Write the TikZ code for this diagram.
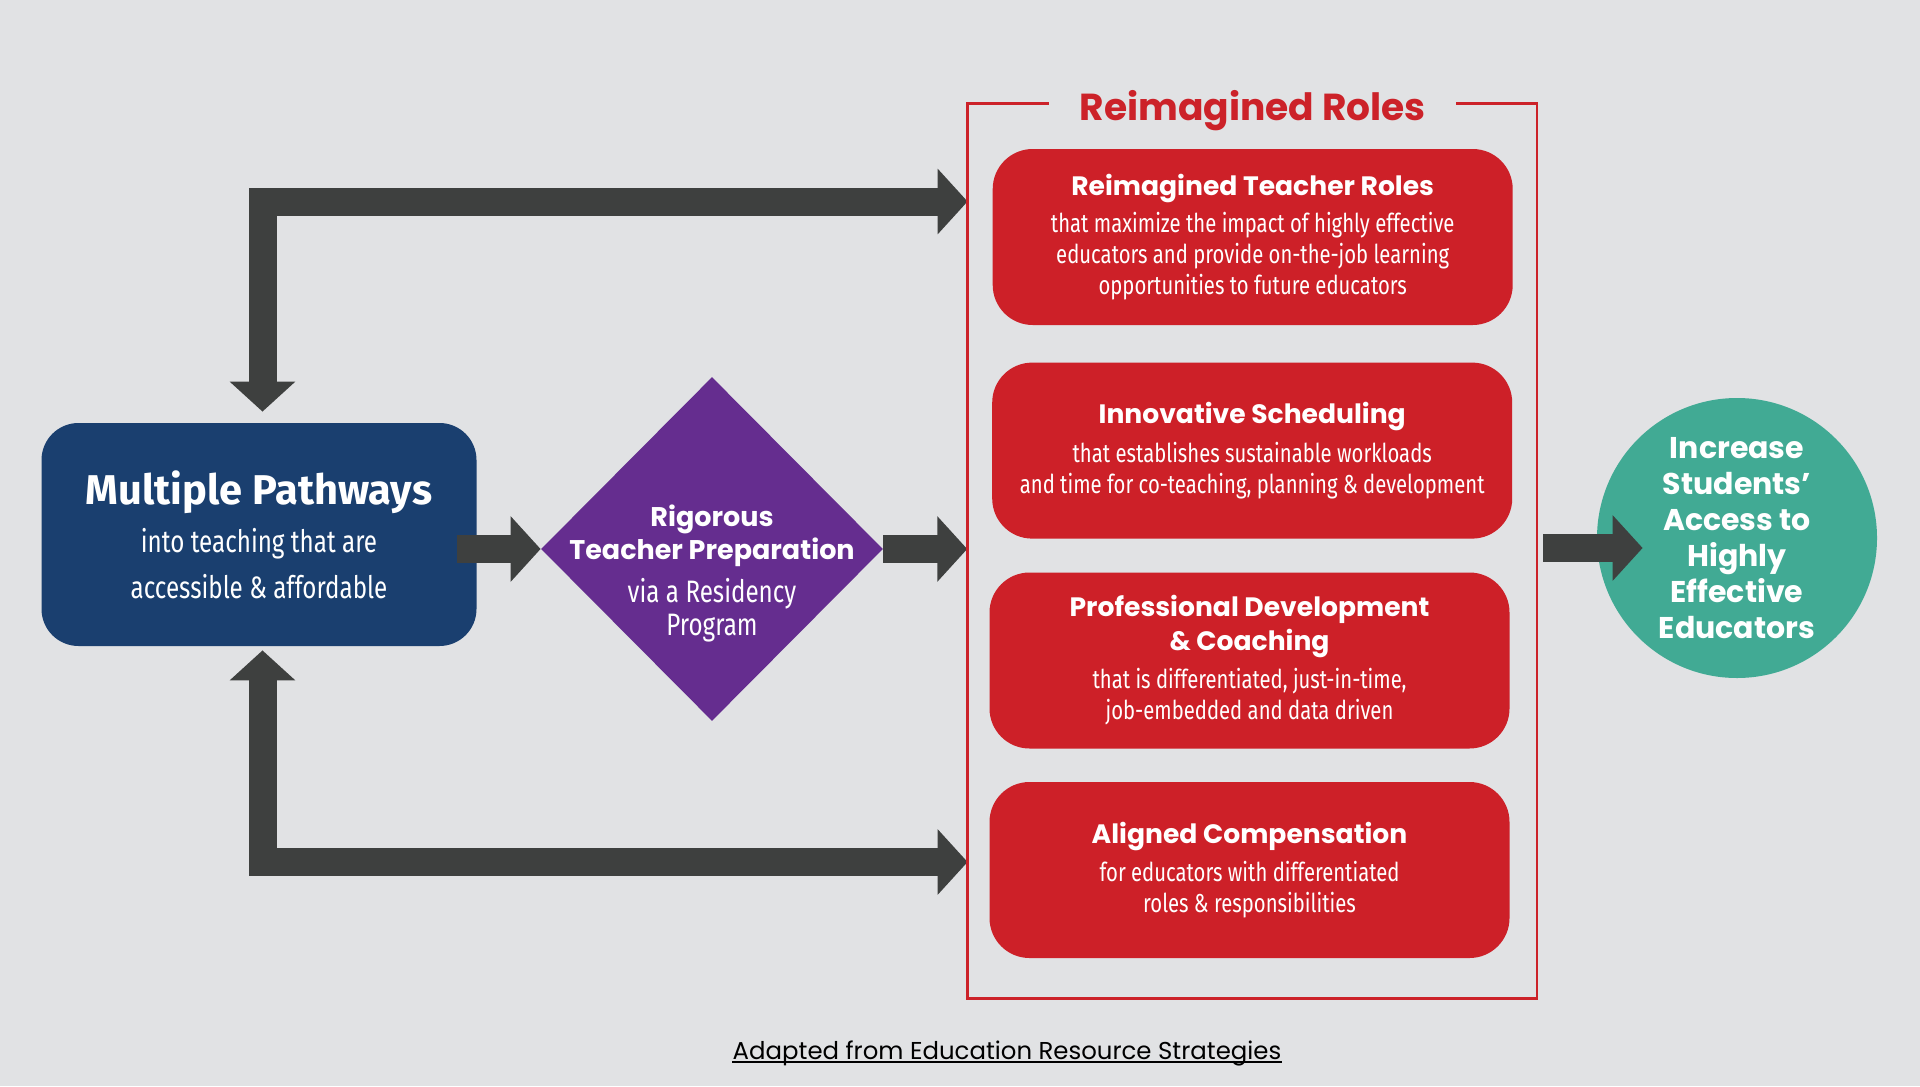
\documentclass[tikz,border=0pt]{standalone}
\usepackage{fontspec}
\setmainfont{Poppins}
\newfontfamily\cond[FakeStretch=0.78]{Fira Sans}
\newfontfamily\fira{Fira Sans}
\usetikzlibrary{shapes.geometric,arrows.meta,calc}
\definecolor{bgc}{HTML}{E1E2E4}
\definecolor{navyc}{HTML}{1A3F6F}
\definecolor{violetc}{HTML}{652D8F}
\definecolor{redc}{HTML}{CD2028}
\definecolor{framec}{HTML}{CC2229}
\definecolor{tealc}{HTML}{41AA94}
\definecolor{arrowc}{HTML}{3E403F}
\newcommand\hd{\rmfamily\bfseries\fontsize{13.3}{17}\selectfont}
\newcommand\dhd{\rmfamily\bfseries\fontsize{13.5}{16.5}\selectfont}
\tikzset{
  pathbox/.style={fill=navyc, rounded corners=18.5pt, minimum width=217.5pt, minimum height=111.5pt,
    text=white, align=center, inner sep=0pt, font=\cond\fontsize{15.5}{23}\selectfont},
  rolebox/.style={fill=redc, rounded corners=20pt, minimum width=260pt, minimum height=88pt,
    text=white, align=center, inner sep=0pt, font=\cond\fontsize{13}{15.5}\selectfont},
  prepshape/.style={diamond, fill=violetc, minimum width=171pt, minimum height=172pt, inner sep=0pt},
  preptext/.style={text=white, align=center, inner sep=0pt, font=\cond\fontsize{15.5}{16.5}\selectfont},
  goalshape/.style={circle, fill=tealc, minimum size=140pt, inner sep=0pt, text=white, align=center,
    font=\bfseries\fontsize{15}{18}\selectfont},
  framebox/.style={draw=framec, line width=1.35pt},
  blockarrow/.style={draw=arrowc, line width=14pt, -{Triangle[length=15pt,width=32pt]}},
  twoway/.style={draw=arrowc, line width=14pt, {Triangle[length=15pt,width=32pt]}-{Triangle[length=15pt,width=32pt]}},
}
\begin{document}
\begin{tikzpicture}[x=0.5pt, y=-0.5pt]
\useasboundingbox (0,0) rectangle (1920,1086);
\fill[bgc] (0,0) rectangle (1920,1086);

% nodes
\node[pathbox] (pw) at (259,534.5)
  {{\fira\bfseries\fontsize{20.8}{22}\selectfont Multiple Pathways}\\[1pt]
   into teaching that are\\ accessible \& affordable};
\node[prepshape] (prep) at (712,549) {};
\node[preptext] (preplabel) at ([yshift=-12pt]prep.center)
  {{\dhd Rigorous}\\
   {\dhd Teacher Preparation}\\[5pt]
   via a Residency\\ Program};

\node[inner sep=0pt, minimum width=284.5pt, minimum height=447pt] (frame) at (1252.15,551.15) {};
\node[anchor=base, inner sep=0pt, text=framec, font=\bfseries\fontsize{18.8}{22}\selectfont] (title)
  at (1252.7,120) {Reimagined Roles};

\node[rolebox] (r1) at (1252.7,237)
  {{\hd Reimagined Teacher Roles}\\[3pt]
   that maximize the impact of highly effective\\
   educators and provide on-the-job learning\\
   opportunities to future educators};
\node[rolebox] (r2) at (1252.2,450.6)
  {{\hd Innovative Scheduling}\\[4pt]
   that establishes sustainable workloads\\
   and time for co-teaching, planning \& development};
\node[rolebox] (r3) at (1249.5,660.5)
  {{\hd Professional Development}\\[1.5pt]
   {\hd \& Coaching}\\[3.5pt]
   that is differentiated, just-in-time,\\
   job-embedded and data driven};
\node[rolebox] (r4) at (1249.5,870)
  {{\hd Aligned Compensation}\\[3.5pt]
   for educators with differentiated\\
   roles \& responsibilities};

\node[goalshape] (goal) at (1737,538)
  {Increase\\ Students’\\ Access to\\ Highly\\ Effective\\ Educators};

\node[anchor=base, inner sep=0pt, font=\fontsize{12.2}{14}\selectfont, text=black] (note)
  at (1007,1059) {Adapted from Education Resource Strategies};
\draw[line width=0.7pt] ([yshift=-1.4pt]note.base west) -- ([yshift=-1.4pt]note.base east);

% connectors
\coordinate (ftop) at (967.6,201.5);
\coordinate (fbot) at (967.6,862);
\draw[twoway] ([xshift=1.75pt,yshift=5.5pt]pw.north) |- (ftop);
\draw[twoway] ([xshift=1.75pt,yshift=-2pt]pw.south) |- (fbot);
\draw[blockarrow] ([xshift=-10pt]pw.east |- prep.west) -- (prep.west);
\draw[blockarrow] (prep.east) -- (frame.west |- prep.east);
\draw[blockarrow] ([xshift=3pt,yshift=-5pt]frame.east |- goal.west) -- ([xshift=23pt,yshift=-5pt]goal.west);

% frame with gap for title
\draw[framebox] ([xshift=40.7pt]frame.north west) -- (frame.north west) -- (frame.south west)
  -- (frame.south east) -- (frame.north east) -- ([xshift=-40.5pt]frame.north east);
\end{tikzpicture}
\end{document}
